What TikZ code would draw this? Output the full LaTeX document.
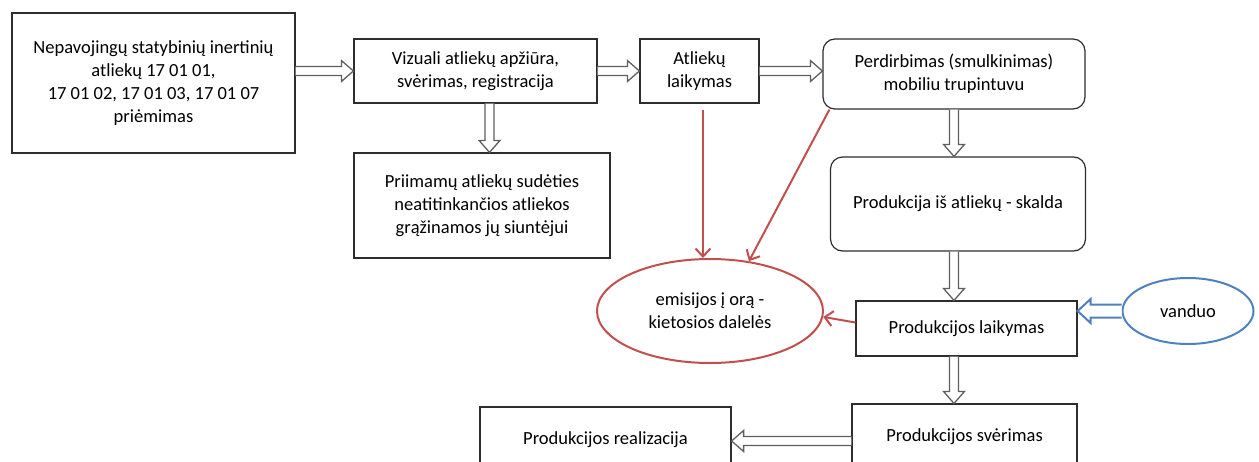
\documentclass[tikz,border=0pt]{standalone}
\usepackage{fontspec}
\setmainfont{Carlito}
\usepackage{tikz}
\usetikzlibrary{arrows.meta}
\usetikzlibrary{shapes.geometric}
\usetikzlibrary{calc}
\definecolor{boxline}{RGB}{45, 45, 45}
\definecolor{arrowgray}{RGB}{95, 95, 95}
\definecolor{emisred}{RGB}{192, 80, 77}
\definecolor{waterblue}{RGB}{79, 129, 189}

\begin{document}
\begin{tikzpicture}
        [x=1pt, y=-1pt,
        box/.style = {draw=boxline, line width=1.2pt, text=black, align=center, inner sep=0pt,
            font=\fontsize{18.5}{23}\selectfont},
        rbox/.style = {box, rounded corners=12pt},
        oval/.style = {ellipse, line width=2pt, text=black, align=center, inner sep=0pt,
            font=\fontsize{18.5}{23}\selectfont},
        emis/.style = {draw=emisred, line width=2pt, -{Straight Barb[length=8pt, width=15pt]}},
        fat/.style n args = {3}{fill=white, line join=miter, to path={
            let \p1 = ($(\tikztotarget)-(\tikztostart)$), \n1 = {atan2(\y1,\x1)}, \n2 = {veclen(\x1,\y1)} in
            {[shift={(\tikztostart)}, rotate=\n1]
            (0pt,#1) -- ({\n2-#3},#1) -- ({\n2-#3},#2) -- ({\n2+0pt},0pt)
            -- ({\n2-#3},-#2) -- ({\n2-#3},-#1) -- (0pt,-#1)}}},
        flow/.style = {fat={4.5pt}{10.5pt}{12pt}, draw=arrowgray, line width=1.3pt},
        inflow/.style = {fat={6.5pt}{12pt}{13pt}, draw=waterblue, line width=2pt}]
        \path[use as bounding box] (0,0) rectangle (1259,461);
        \clip (0,0) rectangle (1259,461);

        \node[box, minimum width=283pt, minimum height=140pt] (intake) at (153.5,83)
            {Nepavojingų statybinių inertinių\\atliekų 17 01 01,\\17 01 02, 17 01 03, 17 01 07\\priėmimas};
        \node[box, minimum width=243pt, minimum height=64pt] (check) at (475.5,71)
            {Vizuali atliekų apžiūra,\\svėrimas, registracija};
        \node[box, minimum width=119pt, minimum height=64pt] (store) at (699.5,71) {Atliekų\\laikymas};
        \node[rbox, minimum width=262pt, minimum height=70pt] (crush) at (954,74)
            {Perdirbimas (smulkinimas)\\mobiliu trupintuvu};
        \node[box, minimum width=256pt, minimum height=105pt] (reject) at (482,205.5)
            {Priimamų atliekų sudėties\\neatitinkančios atliekos\\grąžinamos jų siuntėjui};
        \node[rbox, minimum width=255pt, minimum height=94pt] (gravel) at (958,204)
            {Produkcija iš atliekų - skalda};
        \node[oval, draw=emisred, minimum width=226pt, minimum height=104pt] (dust) at (710,311)
            {emisijos į orą -\\kietosios dalelės};
        \node[box, minimum width=221pt, minimum height=55pt] (pstore) at (966.5,328.5) {Produkcijos laikymas};
        \node[oval, draw=waterblue, minimum width=131pt, minimum height=66pt] (water) at (1188,311) {vanduo};
        \node[box, minimum width=225pt, minimum height=66pt] (weigh) at (964.5,437) {Produkcijos svėrimas};
        \node[box, minimum width=251pt, minimum height=66pt] (sale) at (605.5,440) {Produkcijos realizacija};

        % block arrows
        \draw[flow] (intake.east |- check.west) to (check.west);
        \draw[flow] (check.east) to (store.west);
        \draw[flow] (store.east) to (store.east -| crush.west);
        \draw[flow] ([xshift=14pt]check.south) to ([xshift=14pt]check.south |- reject.north);
        \draw[flow] (crush.south) to (crush.south |- gravel.north);
        \draw[flow] (crush.south |- gravel.south) to (crush.south |- pstore.north);
        \draw[flow] (crush.south |- pstore.south) to (crush.south |- weigh.north);
        \draw[flow] ([yshift=-4pt]weigh.west) to ([yshift=-4pt]weigh.west -| sale.east);
        \draw[inflow] (water.west) to (pstore.east |- water.west);

        % emissions
        \draw[emis] ([xshift=3.5pt, yshift=-6pt]store.south) -- ([xshift=3.5pt]store.south |- dust.north);
        \draw[emis] ([xshift=7pt]crush.south west) -- (dust.52);
        \draw[emis] ([yshift=6pt]pstore.west) -- (dust.-3);
    \end{tikzpicture}
\end{document}
